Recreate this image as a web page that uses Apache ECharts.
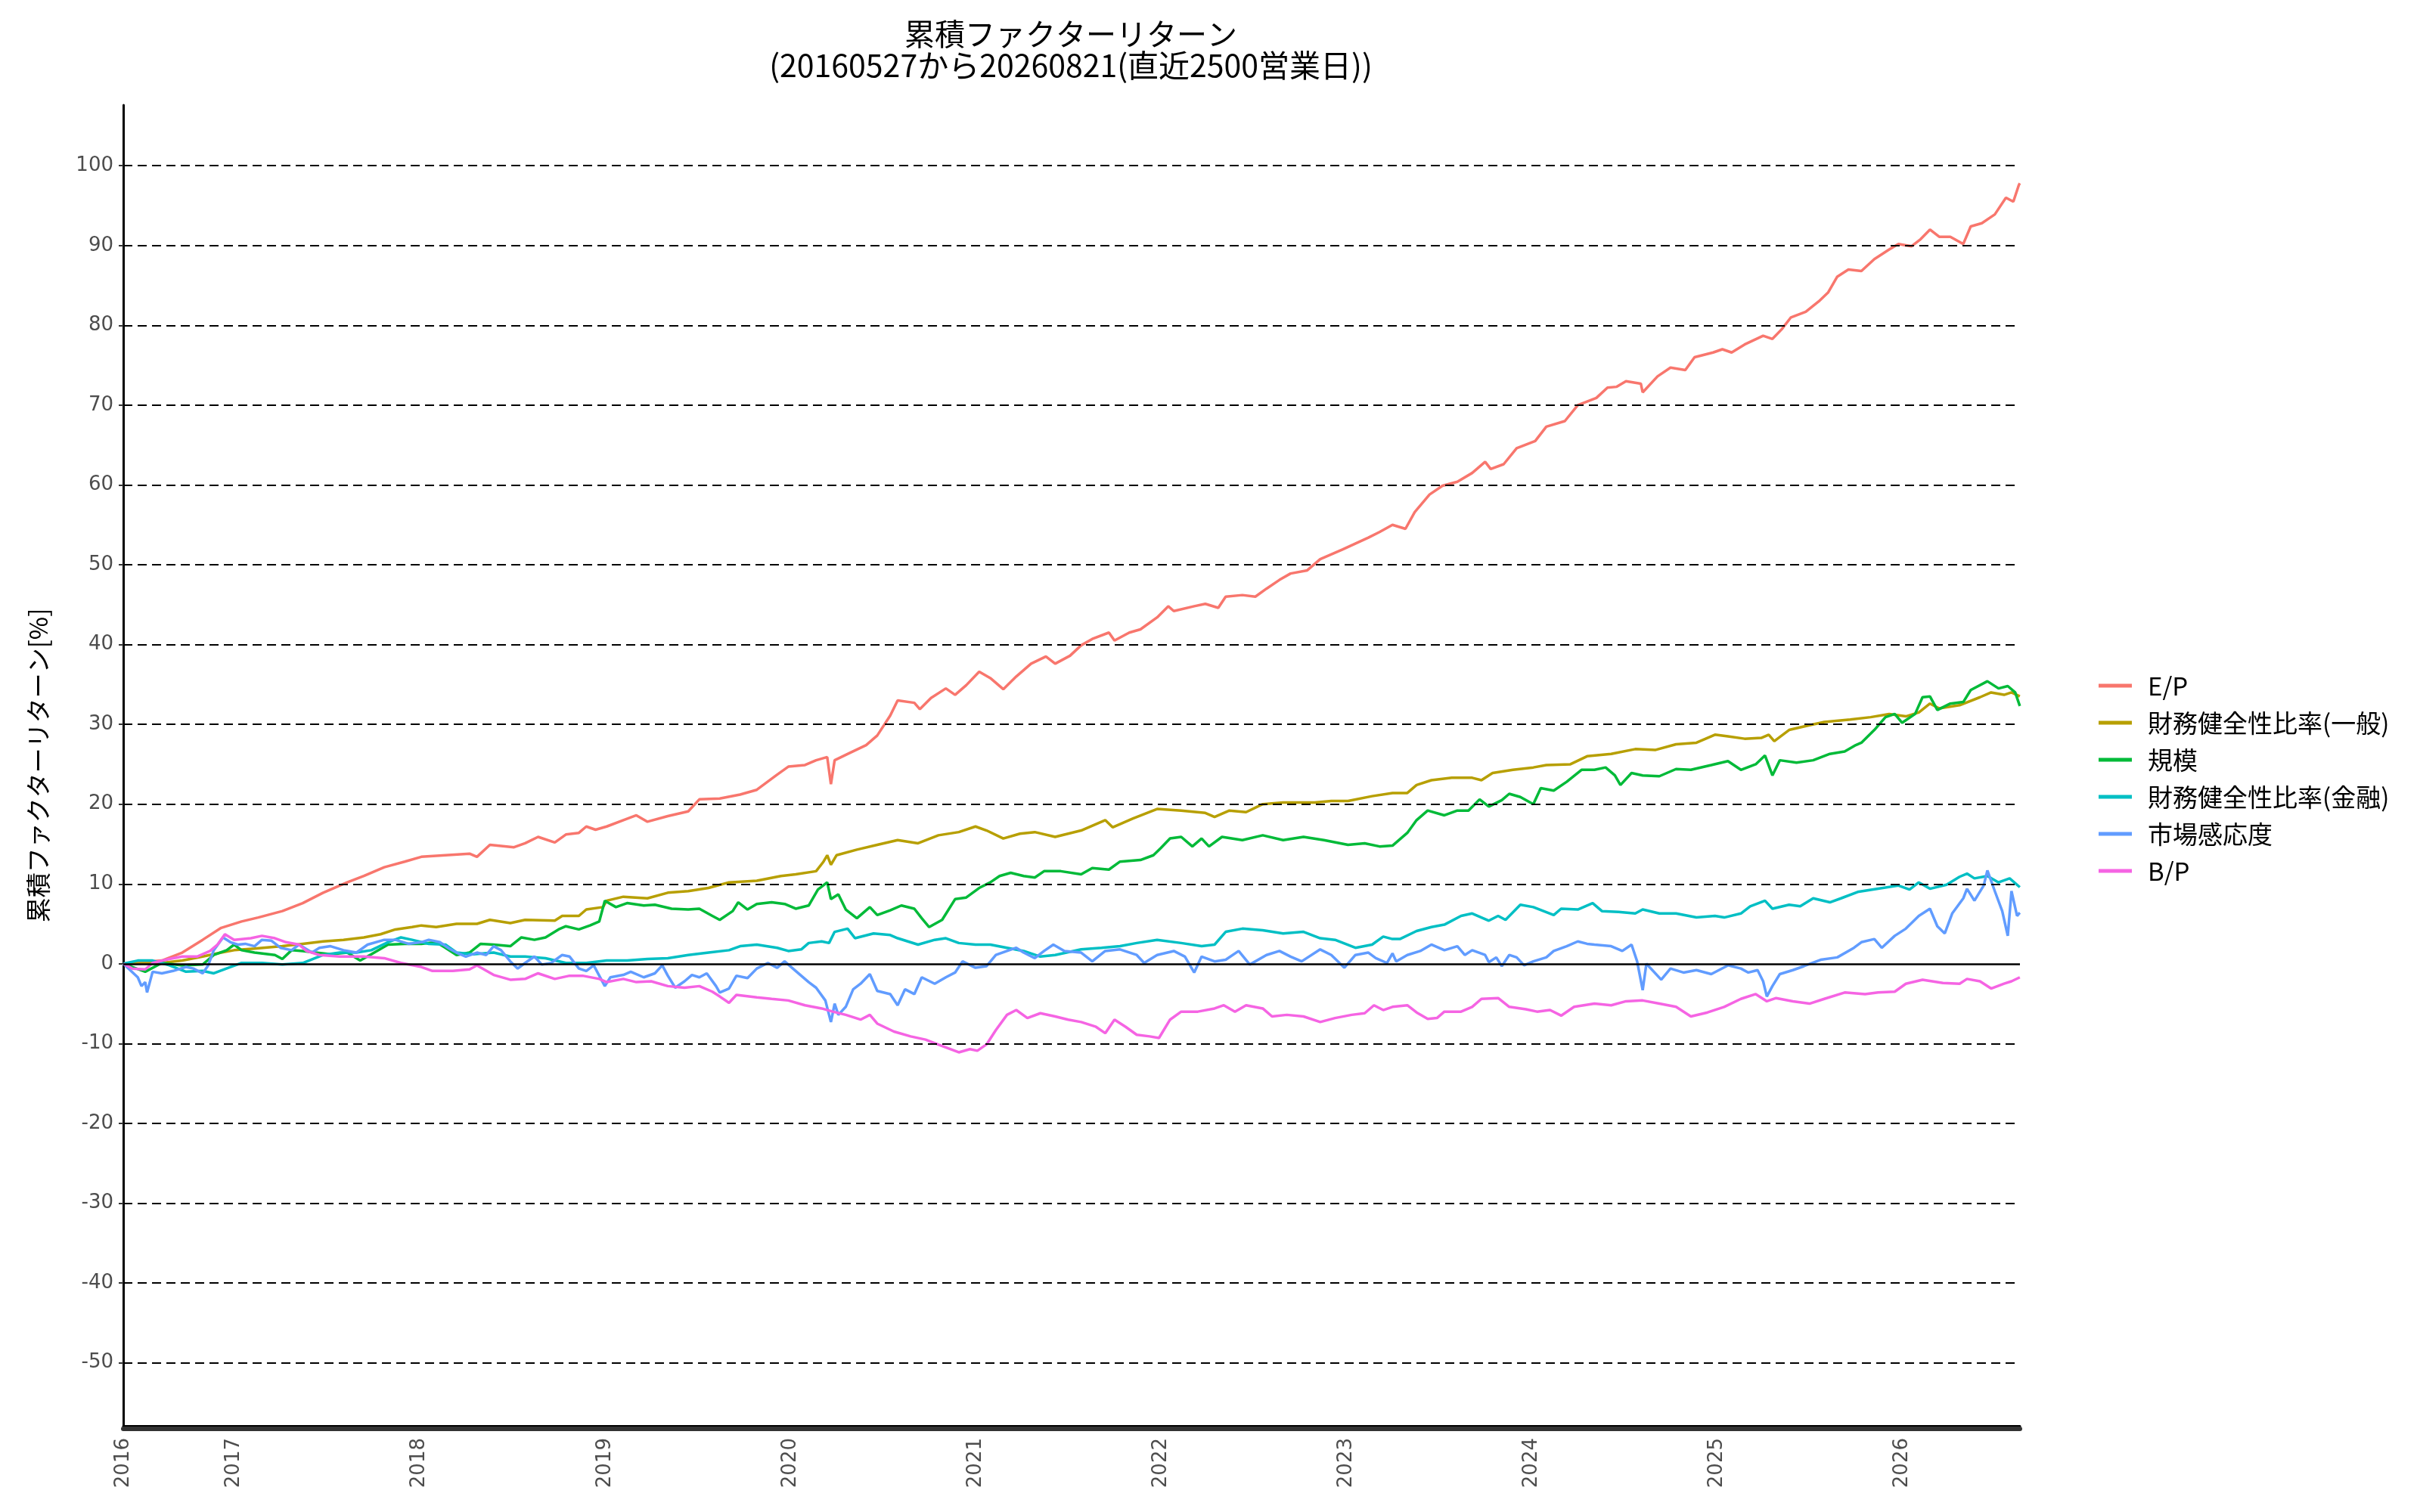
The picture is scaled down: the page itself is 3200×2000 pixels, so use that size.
<!DOCTYPE html>
<html>
<head>
<meta charset="utf-8">
<script src="https://cdn.jsdelivr.net/npm/echarts@6.0.0/dist/echarts.min.js"></script>
<style>
html,body{margin:0;padding:0;background:#fff;}
#chart{width:3200px;height:2000px;}
</style>
</head>
<body>
<div id="chart"></div>
<script>
// ---- data (t = decimal year, v = cumulative return %) ----
const titleLines = ['累積ファクターリターン', '(20160527から20260821(直近2500営業日))'];
const yAxisName = '累積ファクターリターン[%]';
const seriesNames = ['E/P', '財務健全性比率(一般)', '規模', '財務健全性比率(金融)', '市場感応度', 'B/P'];
const seriesColors = ['#F8766D', '#B79F00', '#00BA38', '#00BFC4', '#619CFF', '#F564E3'];
const startDate = [2016, 5, 27];
const endDate = [2026, 8, 21];
const yTicks = [-50, -40, -30, -20, -10, 0, 10, 20, 30, 40, 50, 60, 70, 80, 90, 100];
const xTickYears = [2017, 2018, 2019, 2020, 2021, 2022, 2023, 2024, 2025, 2026];

const epData = [[2016.402,0],[2016.61,0.4],[2016.72,1.4],[2016.83,3.0],[2016.93,4.5],[2017.04,5.3],[2017.13,5.8],[2017.26,6.6],[2017.37,7.6],[2017.48,8.9],[2017.61,10.2],[2017.70,11.0],[2017.81,12.1],[2017.92,12.8],[2018.01,13.4],[2018.14,13.6],[2018.27,13.8],[2018.31,13.4],[2018.38,14.9],[2018.51,14.6],[2018.57,15.1],[2018.64,15.9],[2018.73,15.2],[2018.79,16.2],[2018.86,16.4],[2018.90,17.2],[2018.95,16.8],[2019.01,17.2],[2019.10,18.0],[2019.17,18.6],[2019.23,17.8],[2019.34,18.5],[2019.45,19.1],[2019.51,20.6],[2019.62,20.7],[2019.73,21.2],[2019.82,21.8],[2019.93,23.7],[2019.99,24.7],[2020.08,24.9],[2020.14,25.5],[2020.20,25.9],[2020.22,22.5],[2020.24,25.5],[2020.32,26.4],[2020.41,27.4],[2020.47,28.6],[2020.54,31.1],[2020.58,33.0],[2020.67,32.7],[2020.70,31.9],[2020.76,33.3],[2020.84,34.5],[2020.89,33.7],[2020.95,34.9],[2021.02,36.6],[2021.08,35.8],[2021.15,34.4],[2021.22,36.0],[2021.30,37.6],[2021.38,38.5],[2021.43,37.6],[2021.51,38.6],[2021.57,39.9],[2021.63,40.7],[2021.72,41.5],[2021.75,40.5],[2021.83,41.5],[2021.89,41.9],[2021.98,43.4],[2022.04,44.8],[2022.07,44.2],[2022.18,44.8],[2022.24,45.1],[2022.31,44.6],[2022.35,46.0],[2022.44,46.2],[2022.51,46.0],[2022.57,47.0],[2022.64,48.1],[2022.70,48.9],[2022.79,49.3],[2022.86,50.7],[2022.98,51.9],[2023.12,53.4],[2023.18,54.1],[2023.25,55.0],[2023.32,54.5],[2023.37,56.6],[2023.45,58.8],[2023.52,59.9],[2023.60,60.4],[2023.68,61.5],[2023.75,62.9],[2023.78,62.0],[2023.85,62.6],[2023.92,64.6],[2024.02,65.5],[2024.08,67.3],[2024.18,68.0],[2024.25,70.0],[2024.35,70.9],[2024.41,72.2],[2024.46,72.3],[2024.51,73.0],[2024.59,72.7],[2024.60,71.6],[2024.68,73.6],[2024.75,74.7],[2024.83,74.4],[2024.88,76.0],[2024.98,76.6],[2025.03,77.0],[2025.08,76.6],[2025.15,77.6],[2025.25,78.7],[2025.30,78.3],[2025.35,79.5],[2025.40,81.0],[2025.48,81.7],[2025.55,83.0],[2025.60,84.1],[2025.65,86.1],[2025.71,87.0],[2025.78,86.8],[2025.85,88.3],[2025.93,89.5],[2025.98,90.2],[2026.05,89.9],[2026.10,90.8],[2026.15,92.0],[2026.20,91.1],[2026.26,91.1],[2026.33,90.2],[2026.37,92.4],[2026.43,92.8],[2026.50,93.9],[2026.56,96.0],[2026.60,95.5],[2026.63,97.6],[2026.635,97.8]];

const finGenData = [[2016.402,0],[2016.61,0.1],[2016.72,0.4],[2016.83,0.9],[2016.93,1.4],[2017.00,1.7],[2017.11,1.9],[2017.26,2.2],[2017.37,2.5],[2017.48,2.8],[2017.59,3.0],[2017.70,3.3],[2017.79,3.7],[2017.87,4.3],[2017.96,4.6],[2018.01,4.8],[2018.09,4.6],[2018.20,5.0],[2018.31,5.0],[2018.38,5.5],[2018.49,5.1],[2018.57,5.5],[2018.73,5.4],[2018.77,6.0],[2018.86,6.0],[2018.90,6.8],[2018.99,7.1],[2019.01,7.9],[2019.10,8.4],[2019.23,8.2],[2019.34,8.9],[2019.45,9.1],[2019.56,9.5],[2019.67,10.2],[2019.82,10.4],[2019.95,11.0],[2020.03,11.2],[2020.14,11.6],[2020.18,12.8],[2020.20,13.6],[2020.22,12.4],[2020.25,13.6],[2020.36,14.3],[2020.47,14.9],[2020.58,15.5],[2020.69,15.1],[2020.80,16.1],[2020.91,16.5],[2021.00,17.2],[2021.06,16.7],[2021.15,15.7],[2021.24,16.3],[2021.32,16.5],[2021.43,15.9],[2021.57,16.7],[2021.70,18.0],[2021.74,17.1],[2021.85,18.2],[2021.98,19.4],[2022.11,19.2],[2022.24,18.9],[2022.29,18.4],[2022.37,19.2],[2022.46,19.0],[2022.55,20.0],[2022.66,20.2],[2022.83,20.2],[2022.92,20.4],[2023.01,20.4],[2023.14,21.0],[2023.25,21.4],[2023.33,21.4],[2023.38,22.4],[2023.46,23.0],[2023.57,23.3],[2023.68,23.3],[2023.73,23.0],[2023.79,23.9],[2023.90,24.3],[2024.01,24.6],[2024.08,24.9],[2024.21,25.0],[2024.30,26.0],[2024.43,26.3],[2024.56,26.9],[2024.67,26.8],[2024.78,27.5],[2024.89,27.7],[2024.99,28.7],[2025.06,28.5],[2025.15,28.2],[2025.24,28.3],[2025.28,28.7],[2025.31,27.9],[2025.39,29.3],[2025.50,29.9],[2025.58,30.3],[2025.72,30.6],[2025.83,30.9],[2025.93,31.3],[2026.02,31.0],[2026.09,31.5],[2026.15,32.6],[2026.20,32.0],[2026.31,32.4],[2026.42,33.4],[2026.48,34.0],[2026.55,33.7],[2026.59,34.0],[2026.635,33.5]];

const sizeData = [[2016.402,0],[2016.45,-0.4],[2016.52,-1.0],[2016.61,0.1],[2016.72,-0.2],[2016.83,-0.1],[2016.89,1.1],[2016.96,1.7],[2017.00,2.4],[2017.04,1.7],[2017.11,1.4],[2017.22,1.1],[2017.26,0.6],[2017.31,1.7],[2017.37,1.6],[2017.44,1.4],[2017.52,1.2],[2017.61,1.4],[2017.68,0.4],[2017.74,1.2],[2017.83,2.4],[2017.92,2.5],[2018.01,2.5],[2018.09,2.7],[2018.14,2.0],[2018.20,1.1],[2018.27,1.4],[2018.33,2.5],[2018.40,2.4],[2018.49,2.2],[2018.55,3.3],[2018.62,3.0],[2018.68,3.3],[2018.75,4.3],[2018.79,4.7],[2018.86,4.3],[2018.92,4.8],[2018.97,5.3],[2019.00,7.9],[2019.06,7.1],[2019.12,7.6],[2019.21,7.3],[2019.27,7.4],[2019.36,6.9],[2019.45,6.8],[2019.51,6.9],[2019.58,6.0],[2019.62,5.5],[2019.69,6.6],[2019.72,7.7],[2019.77,6.8],[2019.82,7.5],[2019.90,7.7],[2019.97,7.5],[2020.03,6.9],[2020.10,7.3],[2020.15,9.3],[2020.20,10.2],[2020.22,8.1],[2020.26,8.7],[2020.30,6.8],[2020.36,5.7],[2020.43,7.1],[2020.47,6.1],[2020.54,6.7],[2020.60,7.3],[2020.67,6.9],[2020.71,5.7],[2020.75,4.6],[2020.82,5.5],[2020.89,8.1],[2020.95,8.3],[2021.02,9.5],[2021.08,10.2],[2021.13,11.0],[2021.19,11.4],[2021.26,11.0],[2021.32,10.8],[2021.37,11.6],[2021.46,11.6],[2021.57,11.2],[2021.63,12.0],[2021.72,11.8],[2021.78,12.8],[2021.89,13.0],[2021.96,13.6],[2022.00,14.5],[2022.05,15.7],[2022.11,15.9],[2022.17,14.7],[2022.22,15.7],[2022.26,14.7],[2022.33,15.9],[2022.44,15.5],[2022.55,16.1],[2022.66,15.5],[2022.77,15.9],[2022.88,15.5],[2023.01,14.9],[2023.10,15.1],[2023.18,14.7],[2023.25,14.8],[2023.33,16.4],[2023.38,18.0],[2023.44,19.2],[2023.53,18.6],[2023.60,19.2],[2023.66,19.2],[2023.72,20.6],[2023.77,19.7],[2023.84,20.5],[2023.88,21.3],[2023.94,20.9],[2024.01,20.0],[2024.05,22.0],[2024.12,21.7],[2024.19,22.8],[2024.27,24.3],[2024.34,24.3],[2024.40,24.6],[2024.45,23.6],[2024.48,22.4],[2024.54,23.9],[2024.60,23.6],[2024.69,23.5],[2024.78,24.4],[2024.86,24.3],[2024.97,24.9],[2025.06,25.4],[2025.13,24.3],[2025.21,25.0],[2025.26,26.1],[2025.30,23.6],[2025.34,25.5],[2025.43,25.2],[2025.52,25.5],[2025.61,26.3],[2025.69,26.6],[2025.75,27.4],[2025.78,27.7],[2025.85,29.3],[2025.91,30.9],[2025.96,31.3],[2026.00,30.2],[2026.07,31.3],[2026.11,33.4],[2026.15,33.5],[2026.19,31.8],[2026.26,32.6],[2026.33,32.8],[2026.37,34.3],[2026.46,35.4],[2026.52,34.5],[2026.57,34.8],[2026.61,34.0],[2026.635,32.3]];

const finFinData = [[2016.402,0],[2016.48,0.4],[2016.56,0.4],[2016.65,-0.2],[2016.74,-1.0],[2016.83,-0.9],[2016.89,-1.2],[2016.98,-0.4],[2017.04,0.1],[2017.15,0.1],[2017.26,-0.1],[2017.37,0.1],[2017.48,1.1],[2017.57,1.4],[2017.66,1.4],[2017.74,1.7],[2017.83,2.7],[2017.90,3.3],[2017.96,3.0],[2018.05,2.5],[2018.14,2.4],[2018.20,1.4],[2018.29,1.2],[2018.40,1.4],[2018.49,0.9],[2018.57,0.9],[2018.68,0.7],[2018.79,0.1],[2018.90,0.1],[2019.01,0.4],[2019.12,0.4],[2019.23,0.6],[2019.34,0.7],[2019.45,1.1],[2019.56,1.4],[2019.67,1.7],[2019.73,2.2],[2019.82,2.4],[2019.93,2.0],[2019.99,1.6],[2020.06,1.8],[2020.10,2.6],[2020.17,2.8],[2020.21,2.6],[2020.24,4.0],[2020.31,4.4],[2020.35,3.2],[2020.45,3.8],[2020.54,3.6],[2020.58,3.2],[2020.69,2.4],[2020.78,3.0],[2020.84,3.2],[2020.91,2.6],[2021.00,2.4],[2021.08,2.4],[2021.17,2.0],[2021.26,1.6],[2021.35,0.9],[2021.43,1.1],[2021.57,1.8],[2021.68,2.0],[2021.78,2.2],[2021.87,2.6],[2021.98,3.0],[2022.11,2.6],[2022.22,2.2],[2022.29,2.4],[2022.35,4.0],[2022.44,4.4],[2022.55,4.2],[2022.66,3.8],[2022.77,4.0],[2022.86,3.2],[2022.94,3.0],[2023.05,2.0],[2023.14,2.4],[2023.20,3.4],[2023.25,3.1],[2023.29,3.1],[2023.38,4.1],[2023.46,4.6],[2023.53,4.9],[2023.62,6.0],[2023.68,6.3],[2023.77,5.4],[2023.82,6.0],[2023.86,5.5],[2023.94,7.4],[2024.01,7.1],[2024.12,6.1],[2024.16,6.9],[2024.25,6.8],[2024.33,7.6],[2024.38,6.6],[2024.47,6.5],[2024.56,6.3],[2024.60,6.8],[2024.69,6.3],[2024.78,6.3],[2024.89,5.8],[2024.99,6.0],[2025.04,5.8],[2025.13,6.3],[2025.18,7.2],[2025.26,7.9],[2025.30,6.9],[2025.39,7.4],[2025.45,7.2],[2025.52,8.2],[2025.61,7.7],[2025.67,8.2],[2025.76,9.0],[2025.87,9.4],[2025.98,9.8],[2026.04,9.3],[2026.09,10.2],[2026.15,9.4],[2026.24,9.9],[2026.31,10.9],[2026.35,11.3],[2026.39,10.7],[2026.46,11.0],[2026.52,10.2],[2026.58,10.7],[2026.635,9.6]];

const mktData = [[2016.402,0],[2016.43,-0.6],[2016.48,-1.7],[2016.50,-2.8],[2016.52,-2.3],[2016.53,-3.6],[2016.56,-1.0],[2016.61,-1.2],[2016.67,-0.9],[2016.74,-0.4],[2016.78,-0.6],[2016.83,-1.2],[2016.86,-0.2],[2016.89,1.7],[2016.94,3.3],[2016.98,2.7],[2017.02,2.4],[2017.06,2.5],[2017.11,2.2],[2017.15,3.0],[2017.20,2.9],[2017.25,2.0],[2017.31,1.7],[2017.35,2.4],[2017.42,1.4],[2017.46,2.0],[2017.52,2.2],[2017.59,1.7],[2017.66,1.4],[2017.72,2.4],[2017.81,3.0],[2017.87,3.0],[2017.94,2.5],[2018.01,2.7],[2018.05,3.0],[2018.11,2.7],[2018.16,1.9],[2018.20,1.4],[2018.25,0.9],[2018.31,1.4],[2018.36,1.1],[2018.40,2.2],[2018.44,1.7],[2018.49,0.3],[2018.53,-0.6],[2018.57,0.1],[2018.62,0.9],[2018.66,-0.1],[2018.71,0.1],[2018.77,1.1],[2018.81,0.9],[2018.86,-0.6],[2018.90,-0.9],[2018.94,-0.2],[2019.00,-2.8],[2019.03,-1.7],[2019.10,-1.4],[2019.14,-1.0],[2019.21,-1.7],[2019.27,-1.2],[2019.31,-0.2],[2019.34,-1.5],[2019.38,-3.0],[2019.43,-2.2],[2019.47,-1.4],[2019.51,-1.7],[2019.55,-1.2],[2019.60,-2.8],[2019.62,-3.6],[2019.67,-3.1],[2019.71,-1.5],[2019.77,-1.8],[2019.82,-0.6],[2019.88,0.1],[2019.93,-0.5],[2019.97,0.3],[2020.03,-0.9],[2020.10,-2.3],[2020.14,-3.0],[2020.19,-4.6],[2020.22,-7.3],[2020.24,-5.0],[2020.26,-6.4],[2020.30,-5.4],[2020.34,-3.2],[2020.38,-2.5],[2020.43,-1.3],[2020.47,-3.4],[2020.54,-3.8],[2020.58,-5.2],[2020.62,-3.2],[2020.67,-3.8],[2020.71,-1.7],[2020.78,-2.5],[2020.84,-1.7],[2020.89,-1.1],[2020.93,0.3],[2021.00,-0.5],[2021.06,-0.3],[2021.11,1.1],[2021.17,1.6],[2021.22,2.0],[2021.26,1.4],[2021.32,0.7],[2021.37,1.6],[2021.42,2.4],[2021.48,1.6],[2021.57,1.4],[2021.63,0.3],[2021.70,1.6],[2021.78,1.8],[2021.87,1.1],[2021.91,0.1],[2021.98,1.1],[2022.07,1.6],[2022.13,0.9],[2022.18,-1.1],[2022.22,0.9],[2022.29,0.3],[2022.35,0.5],[2022.42,1.6],[2022.48,-0.1],[2022.57,1.1],[2022.64,1.6],[2022.70,0.9],[2022.76,0.3],[2022.86,1.8],[2022.92,1.1],[2022.99,-0.5],[2023.05,1.1],[2023.12,1.4],[2023.16,0.7],[2023.22,0.1],[2023.25,1.3],[2023.27,0.3],[2023.33,1.1],[2023.40,1.6],[2023.46,2.4],[2023.53,1.7],[2023.60,2.2],[2023.64,1.1],[2023.68,1.7],[2023.75,1.1],[2023.77,0.2],[2023.81,0.8],[2023.84,-0.3],[2023.88,1.1],[2023.92,0.8],[2023.96,-0.2],[2024.01,0.3],[2024.08,0.8],[2024.12,1.6],[2024.19,2.2],[2024.25,2.8],[2024.30,2.5],[2024.34,2.4],[2024.43,2.2],[2024.49,1.6],[2024.54,2.4],[2024.57,0.3],[2024.60,-3.3],[2024.62,0.0],[2024.70,-2.0],[2024.75,-0.6],[2024.82,-1.1],[2024.89,-0.8],[2024.97,-1.3],[2025.06,-0.2],[2025.13,-0.6],[2025.17,-1.1],[2025.22,-0.8],[2025.25,-2.2],[2025.27,-4.1],[2025.30,-2.8],[2025.34,-1.3],[2025.41,-0.8],[2025.47,-0.3],[2025.56,0.5],[2025.65,0.8],[2025.74,2.0],[2025.78,2.7],[2025.85,3.1],[2025.89,2.0],[2025.96,3.5],[2026.02,4.4],[2026.09,6.0],[2026.15,6.9],[2026.19,4.7],[2026.23,3.8],[2026.27,6.3],[2026.33,8.2],[2026.35,9.4],[2026.39,7.9],[2026.44,9.8],[2026.46,11.7],[2026.50,9.1],[2026.54,6.6],[2026.57,3.5],[2026.59,9.1],[2026.62,6.0],[2026.635,6.4]];

const bpData = [[2016.402,0],[2016.45,-0.6],[2016.52,-0.7],[2016.56,0.1],[2016.65,0.6],[2016.72,0.9],[2016.80,0.9],[2016.87,1.6],[2016.91,2.4],[2016.95,3.7],[2017.00,3.0],[2017.09,3.2],[2017.15,3.5],[2017.22,3.2],[2017.28,2.7],[2017.35,2.4],[2017.39,1.6],[2017.46,1.1],[2017.57,0.9],[2017.70,0.9],[2017.81,0.7],[2017.90,0.1],[2018.01,-0.4],[2018.07,-0.9],[2018.18,-0.9],[2018.27,-0.7],[2018.31,-0.2],[2018.40,-1.4],[2018.49,-2.0],[2018.57,-1.9],[2018.64,-1.2],[2018.73,-1.9],[2018.81,-1.5],[2018.88,-1.5],[2018.97,-1.9],[2019.01,-2.3],[2019.10,-1.9],[2019.17,-2.3],[2019.25,-2.2],[2019.34,-2.8],[2019.43,-3.0],[2019.51,-2.8],[2019.58,-3.5],[2019.62,-4.1],[2019.67,-4.9],[2019.71,-3.9],[2019.82,-4.2],[2019.90,-4.4],[2019.99,-4.6],[2020.08,-5.2],[2020.17,-5.6],[2020.23,-6.0],[2020.30,-6.4],[2020.38,-7.0],[2020.43,-6.4],[2020.47,-7.5],[2020.56,-8.5],[2020.65,-9.1],[2020.73,-9.5],[2020.82,-10.3],[2020.91,-11.1],[2020.97,-10.7],[2021.01,-10.9],[2021.06,-10.1],[2021.11,-8.3],[2021.17,-6.4],[2021.22,-5.8],[2021.28,-6.8],[2021.35,-6.2],[2021.43,-6.6],[2021.50,-7.0],[2021.57,-7.3],[2021.65,-7.9],[2021.70,-8.7],[2021.75,-7.0],[2021.81,-7.9],[2021.87,-8.9],[2021.94,-9.1],[2021.99,-9.3],[2022.05,-7.0],[2022.11,-6.0],[2022.20,-6.0],[2022.29,-5.6],[2022.34,-5.2],[2022.40,-6.0],[2022.46,-5.2],[2022.55,-5.6],[2022.60,-6.6],[2022.68,-6.4],[2022.77,-6.6],[2022.86,-7.3],[2022.94,-6.8],[2023.03,-6.4],[2023.10,-6.2],[2023.15,-5.2],[2023.20,-5.8],[2023.25,-5.4],[2023.33,-5.2],[2023.38,-6.1],[2023.44,-6.9],[2023.49,-6.8],[2023.53,-6.0],[2023.62,-6.0],[2023.68,-5.4],[2023.73,-4.4],[2023.82,-4.3],[2023.88,-5.4],[2023.97,-5.7],[2024.03,-6.0],[2024.10,-5.8],[2024.16,-6.5],[2024.23,-5.4],[2024.34,-5.0],[2024.43,-5.2],[2024.51,-4.7],[2024.60,-4.6],[2024.69,-5.0],[2024.78,-5.4],[2024.86,-6.6],[2024.95,-6.1],[2025.04,-5.4],[2025.13,-4.4],[2025.21,-3.8],[2025.27,-4.7],[2025.32,-4.3],[2025.41,-4.7],[2025.50,-5.0],[2025.58,-4.4],[2025.69,-3.6],[2025.80,-3.8],[2025.87,-3.6],[2025.96,-3.5],[2026.02,-2.5],[2026.11,-2.0],[2026.22,-2.4],[2026.31,-2.5],[2026.35,-1.9],[2026.42,-2.2],[2026.48,-3.1],[2026.55,-2.5],[2026.59,-2.2],[2026.635,-1.7]];

const allData = [epData, finGenData, sizeData, finFinData, mktData, bpData];

// ---- helpers: calendar date -> decimal year ----
function dateToYear(y, m, d) {
  const a = Date.UTC(y, 0, 1), b = Date.UTC(y + 1, 0, 1);
  return y + (Date.UTC(y, m - 1, d) - a) / (b - a);
}
const xMin = dateToYear(startDate[0], startDate[1], startDate[2]);
const xMax = dateToYear(endDate[0], endDate[1], endDate[2]);
const xTickVals = [xMin].concat(xTickYears);

const chart = echarts.init(document.getElementById('chart'), null, {renderer: 'canvas'});

const gridLineData = yTicks.filter(v => v !== 0).map(v => ({yAxis: v}));

const series = [
  {
    name: '_grid', type: 'line', data: [], silent: true, z: 1,
    markLine: {
      silent: true, symbol: ['none', 'none'], animation: false,
      label: {show: false},
      lineStyle: {color: '#000', width: 2, type: [12, 7]},
      data: gridLineData
    }
  },
  {
    name: '_zero', type: 'line', data: [], silent: true, z: 1,
    markLine: {
      silent: true, symbol: ['none', 'none'], animation: false,
      label: {show: false},
      lineStyle: {color: '#000', width: 2.5, type: 'solid'},
      data: [{yAxis: 0}]
    }
  }
].concat(seriesNames.map((name, i) => ({
  name: name,
  type: 'line',
  z: 3,
  showSymbol: false,
  symbol: 'none',
  lineStyle: {width: 3.5, color: seriesColors[i]},
  itemStyle: {color: seriesColors[i]},
  data: allData[i].map(p => [Math.min(Math.max(p[0], xMin), xMax), p[1]])
})));

const option = {
  animation: false,
  backgroundColor: '#ffffff',
  grid: {left: 163, right: 529, top: 139, bottom: 114, containLabel: false},
  graphic: [
    {type: 'text', x: 1416, y: 45, style: {text: titleLines[0], fill: '#000', font: '40px "Noto Sans CJK JP"', textAlign: 'center', textVerticalAlign: 'middle'}},
    {type: 'text', x: 1416, y: 86, style: {text: titleLines[1], fill: '#000', font: '41px "Noto Sans CJK JP"', textAlign: 'center', textVerticalAlign: 'middle'}}
  ],
  legend: {
    data: seriesNames,
    orient: 'vertical',
    left: 2770, top: 884,
    itemWidth: 44, itemHeight: 5, itemGap: 13,
    icon: 'rect',
    textStyle: {fontSize: 33, lineHeight: 36, color: '#000', fontFamily: '"Noto Sans CJK JP"', padding: [0, 0, 0, 16]}
  },
  xAxis: [
    {
      type: 'value', min: xMin, max: xMax,
      axisLine: {show: true, onZero: false, lineStyle: {color: '#000', width: 3}},
      axisTick: {show: false},
      splitLine: {show: false},
      axisLabel: {
        customValues: xTickVals,
        formatter: v => String(Math.floor(v + 1e-6)),
        rotate: 90, fontSize: 26, color: '#4D4D4D', fontFamily: '"DejaVu Sans"', margin: 16,
        showMinLabel: true, hideOverlap: false
      }
    },
    {
      type: 'value', min: xMin, max: xMax, position: 'bottom', offset: 4,
      axisLine: {show: true, onZero: false, lineStyle: {color: '#333333', width: 6}},
      axisTick: {show: false}, axisLabel: {show: false}, splitLine: {show: false}
    }
  ],
  yAxis: {
    type: 'value', min: -57.9, max: 107.6,
    axisLine: {show: true, lineStyle: {color: '#000', width: 3}},
    axisTick: {show: true, length: 6, customValues: yTicks, lineStyle: {color: '#333', width: 2}},
    axisLabel: {customValues: yTicks, fontSize: 26, color: '#4D4D4D', fontFamily: '"DejaVu Sans"', margin: 13},
    splitLine: {show: false},
    name: yAxisName, nameLocation: 'middle', nameGap: 96, nameRotate: 90,
    nameTextStyle: {fontSize: 33, color: '#000', fontFamily: '"Noto Sans CJK JP"'}
  },
  series: series
};
chart.setOption(option);
</script>
</body>
</html>
